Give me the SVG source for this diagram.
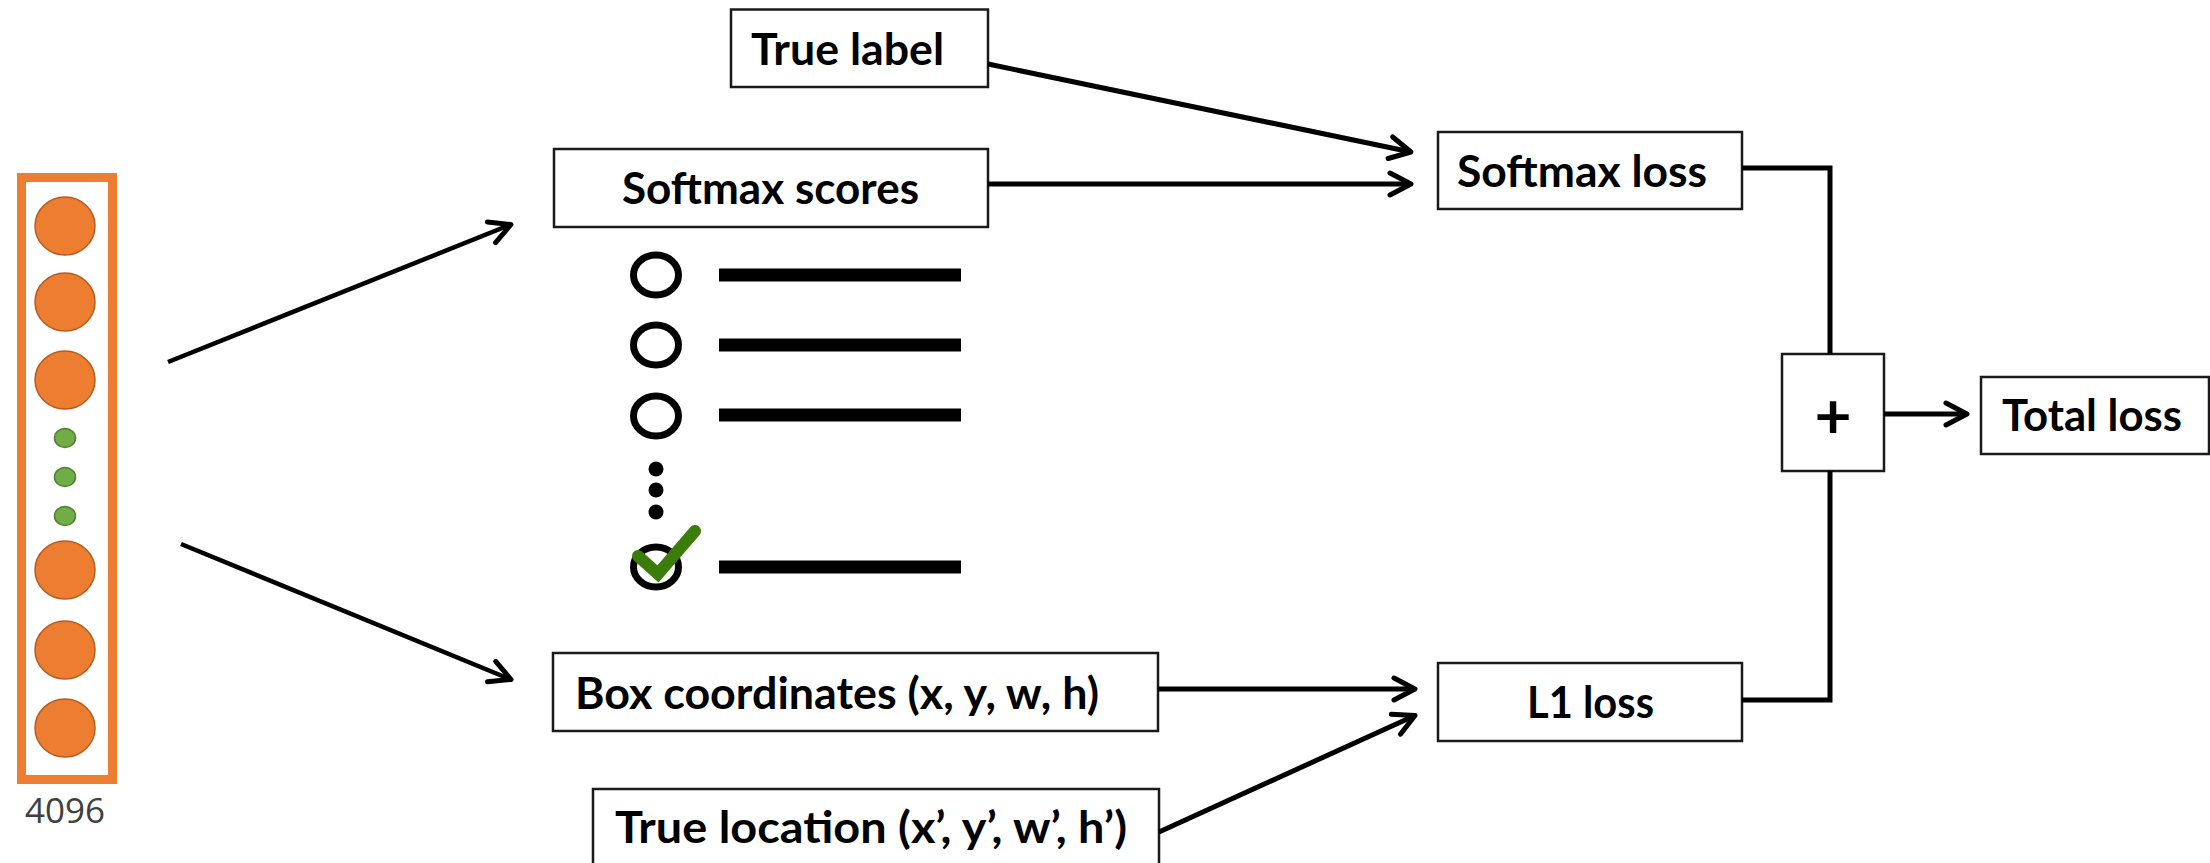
<svg xmlns="http://www.w3.org/2000/svg" width="2210" height="863" viewBox="0 0 2210 863">
<defs>
<style>
.box{fill:#ffffff;stroke:#1a1a1a;stroke-width:2.5}
.lbl{font-family:Lato,"Open Sans","Liberation Sans",sans-serif;font-weight:bold;font-size:43px;fill:#000}
.con{fill:none;stroke:#000;stroke-width:5}
.thin{stroke-width:4.5}
.node{fill:#ED7D31;stroke:#B85A1E;stroke-width:1.5}
.dot{fill:#70AD47;stroke:#507E32;stroke-width:1.5}
.ring{fill:none;stroke:#000;stroke-width:7}
.bar{stroke:#000;stroke-width:13}
</style>
<marker id="ah" markerUnits="userSpaceOnUse" markerWidth="40" markerHeight="40" refX="0" refY="0" orient="auto" overflow="visible">
<path d="M -21,-11 L 0,0 L -21,11" fill="none" stroke="#000" stroke-width="5" stroke-linecap="round" stroke-linejoin="round"/>
</marker>
</defs>
<rect width="2210" height="863" fill="#ffffff"/>

<g id="feature-vector">
<rect x="21.5" y="177.5" width="91" height="602" fill="#ffffff" stroke="#ED7D31" stroke-width="9"/>
<ellipse class="node" cx="65" cy="226" rx="30" ry="29"/>
<ellipse class="node" cx="65" cy="302" rx="30" ry="29"/>
<ellipse class="node" cx="65" cy="380" rx="30" ry="29"/>
<ellipse class="dot" cx="65" cy="438" rx="10.5" ry="9.5"/>
<ellipse class="dot" cx="65" cy="477" rx="10.5" ry="9.5"/>
<ellipse class="dot" cx="65" cy="516" rx="10.5" ry="9.5"/>
<ellipse class="node" cx="65" cy="570" rx="30" ry="29"/>
<ellipse class="node" cx="65" cy="650" rx="30" ry="29"/>
<ellipse class="node" cx="65" cy="728" rx="30" ry="29"/>
<text x="65" y="823" text-anchor="middle" font-family="'Open Sans','Liberation Sans',sans-serif" font-size="35" fill="#404040">4096</text>
</g>

<g id="true-label">
<rect class="box" x="731" y="9.5" width="257" height="77.5"/>
<text class="lbl" x="751" y="65" textLength="193" lengthAdjust="spacingAndGlyphs">True label</text>
</g>

<g id="softmax-scores">
<rect class="box" x="554" y="149" width="434" height="78"/>
<text class="lbl" x="622" y="204" textLength="297" lengthAdjust="spacingAndGlyphs">Softmax scores</text>
</g>

<g id="score-list">
<ellipse class="ring" cx="656" cy="275" rx="22.5" ry="20"/>
<ellipse class="ring" cx="656" cy="345" rx="22.5" ry="20"/>
<ellipse class="ring" cx="656" cy="416" rx="22.5" ry="20"/>
<ellipse class="ring" cx="656" cy="567" rx="22.5" ry="20"/>
<line class="bar" x1="719" y1="275" x2="961" y2="275"/>
<line class="bar" x1="719" y1="345" x2="961" y2="345"/>
<line class="bar" x1="719" y1="415" x2="961" y2="415"/>
<line class="bar" x1="719" y1="567" x2="961" y2="567"/>
<circle cx="656" cy="469" r="7.5" fill="#000"/>
<circle cx="656" cy="490" r="7.5" fill="#000"/>
<circle cx="656" cy="512" r="7.5" fill="#000"/>
<polyline points="638,556 658,574 695,531" fill="none" stroke="#3A7D0A" stroke-width="12" stroke-linejoin="miter" stroke-linecap="round"/>
</g>

<g id="box-coordinates">
<rect class="box" x="553" y="653" width="605" height="78"/>
<text class="lbl" x="575" y="709" textLength="524" lengthAdjust="spacingAndGlyphs">Box coordinates (x, y, w, h)</text>
</g>

<g id="true-location">
<rect class="box" x="593" y="789" width="566" height="82"/>
<text class="lbl" x="615" y="843" textLength="512" lengthAdjust="spacingAndGlyphs">True location (x’, y’, w’, h’)</text>
</g>

<g id="softmax-loss">
<rect class="box" x="1438" y="132" width="304" height="77"/>
<text class="lbl" x="1457" y="187" textLength="250" lengthAdjust="spacingAndGlyphs">Softmax loss</text>
</g>

<g id="l1-loss">
<rect class="box" x="1438" y="663" width="304" height="78"/>
<text class="lbl" x="1527" y="718" textLength="127" lengthAdjust="spacingAndGlyphs">L1 loss</text>
</g>

<g id="sum">
<rect class="box" x="1782" y="354" width="102" height="117"/>
<text x="1833" y="438" text-anchor="middle" font-family="Lato,'Liberation Sans',sans-serif" font-weight="bold" font-size="64" fill="#000">+</text>
</g>

<g id="total-loss">
<rect class="box" x="1981" y="377" width="228" height="77"/>
<text class="lbl" x="2002" y="431" textLength="180" lengthAdjust="spacingAndGlyphs">Total loss</text>
</g>

<g id="connectors">
<line class="con thin" x1="168" y1="362" x2="511" y2="224.5" marker-end="url(#ah)"/>
<line class="con thin" x1="181" y1="544" x2="511" y2="679.5" marker-end="url(#ah)"/>
<line class="con" x1="988" y1="64" x2="1411" y2="152" marker-end="url(#ah)"/>
<line class="con" x1="988" y1="184" x2="1411" y2="184" marker-end="url(#ah)"/>
<line class="con" x1="1158" y1="689" x2="1415" y2="689" marker-end="url(#ah)"/>
<line class="con" x1="1159" y1="832" x2="1415" y2="715.5" marker-end="url(#ah)"/>
<polyline class="con" points="1742,168 1830,168 1830,354"/>
<polyline class="con" points="1742,700 1830,700 1830,471"/>
<line class="con" x1="1884" y1="414" x2="1967" y2="414" marker-end="url(#ah)"/>
</g>
</svg>
